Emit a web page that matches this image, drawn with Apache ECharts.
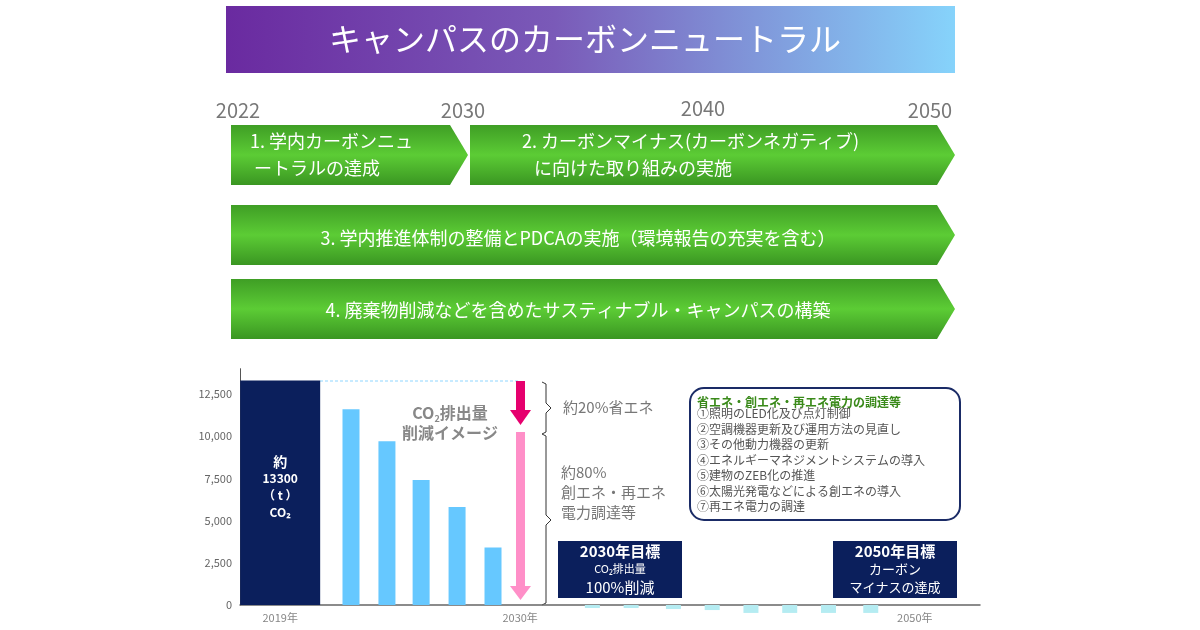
<!DOCTYPE html>
<html><head><meta charset="utf-8">
<script src="https://cdn.jsdelivr.net/npm/echarts@6/dist/echarts.min.js"></script>
<style>html,body{margin:0;padding:0;background:#fff}#c{width:1200px;height:630px}</style>
</head><body><div id="c"></div>
<script>
const F = '"Noto Sans CJK JP","Noto Sans",sans-serif';
const yearTicks = ['2022','2030','2040','2050'];
const baseValue = 13300;
const reductionPos = [3.15, 4.17, 5.14, 6.16, 7.18];
const reductionValues = [11600, 9700, 7400, 5800, 3400];
const minusPos = [10.0, 11.1, 12.3, 13.4, 14.5, 15.6, 16.7, 17.9];
const minusValues = [-180, -180, -240, -300, -470, -470, -470, -470];
const xLabelPos = [1.14, 7.95, 19.15];
const xLabels = ['2019年', '2030年', '2050年'];
const listItems = ['①照明のLED化及び点灯制御','②空調機器更新及び運用方法の見直し','③その他動力機器の更新','④エネルギーマネジメントシステムの導入','⑤建物のZEB化の推進','⑥太陽光発電などによる創エネの導入','⑦再エネ電力の調達'];

const chart = echarts.init(document.getElementById('c'));
const green = {type:'linear',x:0,y:0,x2:0,y2:1,colorStops:[{offset:0,color:'#3f9e25'},{offset:0.5,color:'#5ccc35'},{offset:1,color:'#3a9622'}]};
function arrow(x1,x2,y1,y2){const m=(y1+y2)/2;return {type:'polygon',shape:{points:[[x1,y1],[x2-18,y1],[x2,m],[x2-18,y2],[x1,y2]]},style:{fill:green}};}
function txt(x,y,t,o){return Object.assign({type:'text',x:x,y:y,style:Object.assign({text:t,fill:'#fff',font:'18px '+F,align:'center',verticalAlign:'middle'},o||{})});}
const yrX=[238,463,703,930];
const g=[
 {type:'rect',shape:{x:226,y:6,width:729,height:67},style:{fill:{type:'linear',x:0,y:0,x2:1,y2:0,colorStops:[{offset:0,color:'#6a2aa0'},{offset:0.45,color:'#7a5ab8'},{offset:1,color:'#86d3fb'}]}}},
 txt(585,39,'キャンパスのカーボンニュートラル',{font:'32px '+F}),
 ...yearTicks.map((t,i)=>txt(yrX[i],i===2?108:110,t,{fill:'#777',font:'20px '+F})),
 arrow(231,468,125,185), arrow(470,955,125,185), arrow(231,955,205,265), arrow(231,955,279,339),
 {type:'text',x:250,y:155,style:{text:'1. 学内カーボンニュ\n ートラルの達成',fill:'#fff',font:'18px '+F,verticalAlign:'middle',lineHeight:27}},
 {type:'text',x:522,y:155,style:{text:'2. カーボンマイナス(カーボンネガティブ)\n   に向けた取り組みの実施',fill:'#fff',font:'18px '+F,verticalAlign:'middle',lineHeight:27}},
 txt(578,238,'3. 学内推進体制の整備とPDCAの実施（環境報告の充実を含む）'),
 txt(578,310,'4. 廃棄物削減などを含めたサスティナブル・キャンパスの構築'),
 {type:'line',shape:{x1:320,y1:381,x2:518,y2:381},style:{stroke:'#8fd6ff',lineDash:[3,2],lineWidth:1}},
 {type:'rect',shape:{x:516,y:381,width:9,height:30},style:{fill:'#e6006e'}},
 {type:'polygon',shape:{points:[[510,410],[531,410],[520.5,425]]},style:{fill:'#e6006e'}},
 {type:'rect',shape:{x:516,y:432,width:9,height:155},style:{fill:'#ff8fc8'}},
 {type:'polygon',shape:{points:[[510,586],[531,586],[520.5,600]]},style:{fill:'#ff8fc8'}},
 {type:'polyline',shape:{points:[[542,382],[546,384],[546,403],[551,408],[546,413],[546,432],[542,434]]},style:{stroke:'#333',fill:null,lineWidth:1}},
 {type:'polyline',shape:{points:[[542,434],[546,436],[546,515],[551,520],[546,525],[546,603],[542,605]]},style:{stroke:'#333',fill:null,lineWidth:1}},
 {type:'text',x:563,y:407,style:{text:'約20%省エネ',fill:'#777',font:'15px '+F,verticalAlign:'middle'}},
 {type:'text',x:561,y:492,style:{text:'約80%\n創エネ・再エネ\n電力調達等',fill:'#777',font:'15px '+F,verticalAlign:'middle',lineHeight:20}},
 {type:'text',x:450,y:423,style:{rich:{a:{font:'bold 16px '+F,fill:'#888'},s:{font:'bold 9px '+F,fill:'#888',verticalAlign:'bottom',padding:[8,0,0,0]}},text:'{a|CO}{s|2}{a|排出量}\n{a|削減イメージ}',align:'center',verticalAlign:'middle',lineHeight:20}},
 {type:'rect',shape:{x:558,y:541,width:124,height:57},style:{fill:'#0b1f5c'}},
 {type:'text',x:620,y:569,style:{rich:{a:{font:'bold 15px '+F,fill:'#fff'},b:{font:'11px '+F,fill:'#fff'},c:{font:'15px '+F,fill:'#fff'}},text:'{a|2030年目標}\n{b|CO₂排出量}\n{c|100%削減}',align:'center',verticalAlign:'middle',lineHeight:18}},
 {type:'rect',shape:{x:833,y:541,width:124,height:57},style:{fill:'#0b1f5c'}},
 {type:'text',x:895,y:569,style:{rich:{a:{font:'bold 15px '+F,fill:'#fff'},c:{font:'13px '+F,fill:'#fff'}},text:'{a|2050年目標}\n{c|カーボン}\n{c|マイナスの達成}',align:'center',verticalAlign:'middle',lineHeight:18}},
 {type:'rect',shape:{x:690,y:388,width:270,height:132,r:14},style:{fill:'#fff',stroke:'#1a2b66',lineWidth:2}},
 {type:'text',x:697,y:402,style:{text:'省エネ・創エネ・再エネ電力の調達等',fill:'#3a8a1a',font:'bold 12px '+F,verticalAlign:'middle'}},
 {type:'text',x:697,y:460,style:{text:listItems.join('\n'),fill:'#555',font:'12px '+F,verticalAlign:'middle',lineHeight:15.5}}
];
const xa = i => ({type:'value',min:0,max:21,show:i===0,axisLabel:{show:false},axisTick:{show:false},splitLine:{show:false},axisLine:{lineStyle:{color:'#666',width:1.5}}});
chart.setOption({
 animation:false,
 grid:{left:240,right:220,top:368.7,bottom:25},
 xAxis:[xa(0),xa(1),xa(2),xa(3)],
 yAxis:{type:'value',min:0,max:14000,interval:2500,splitLine:{show:false},axisLine:{show:true,lineStyle:{color:'#555'}},axisTick:{show:false},
   axisLabel:{color:'#666',fontSize:11,fontFamily:F,formatter:v=>v>13000?'':v.toLocaleString('en-US')}},
 series:[
  {type:'bar',xAxisIndex:0,barWidth:80,data:[[xLabelPos[0],baseValue]],itemStyle:{color:'#0b1f5c'},
   label:{show:true,position:'inside',offset:[0,-6],color:'#fff',fontFamily:F,fontWeight:'bold',fontSize:12,lineHeight:17,formatter:'{a|約}\n13300\n（ t ）\nCO₂',rich:{a:{fontSize:14,fontWeight:'bold',color:'#fff'}}}},
  {type:'bar',xAxisIndex:1,barWidth:17,data:reductionPos.map((x,i)=>[x,reductionValues[i]]),itemStyle:{color:'#66c8ff'}},
  {type:'bar',xAxisIndex:2,clip:false,barWidth:15,data:minusPos.map((x,i)=>[x,minusValues[i]]),itemStyle:{color:'#b5ecf2'}},
  {type:'scatter',xAxisIndex:3,symbolSize:0,data:xLabelPos.map(x=>[x,0]),
   label:{show:true,position:'bottom',distance:7,color:'#666',fontSize:11,fontFamily:F,formatter:p=>xLabels[p.dataIndex]}}
 ],
 graphic:g
});
</script></body></html>
